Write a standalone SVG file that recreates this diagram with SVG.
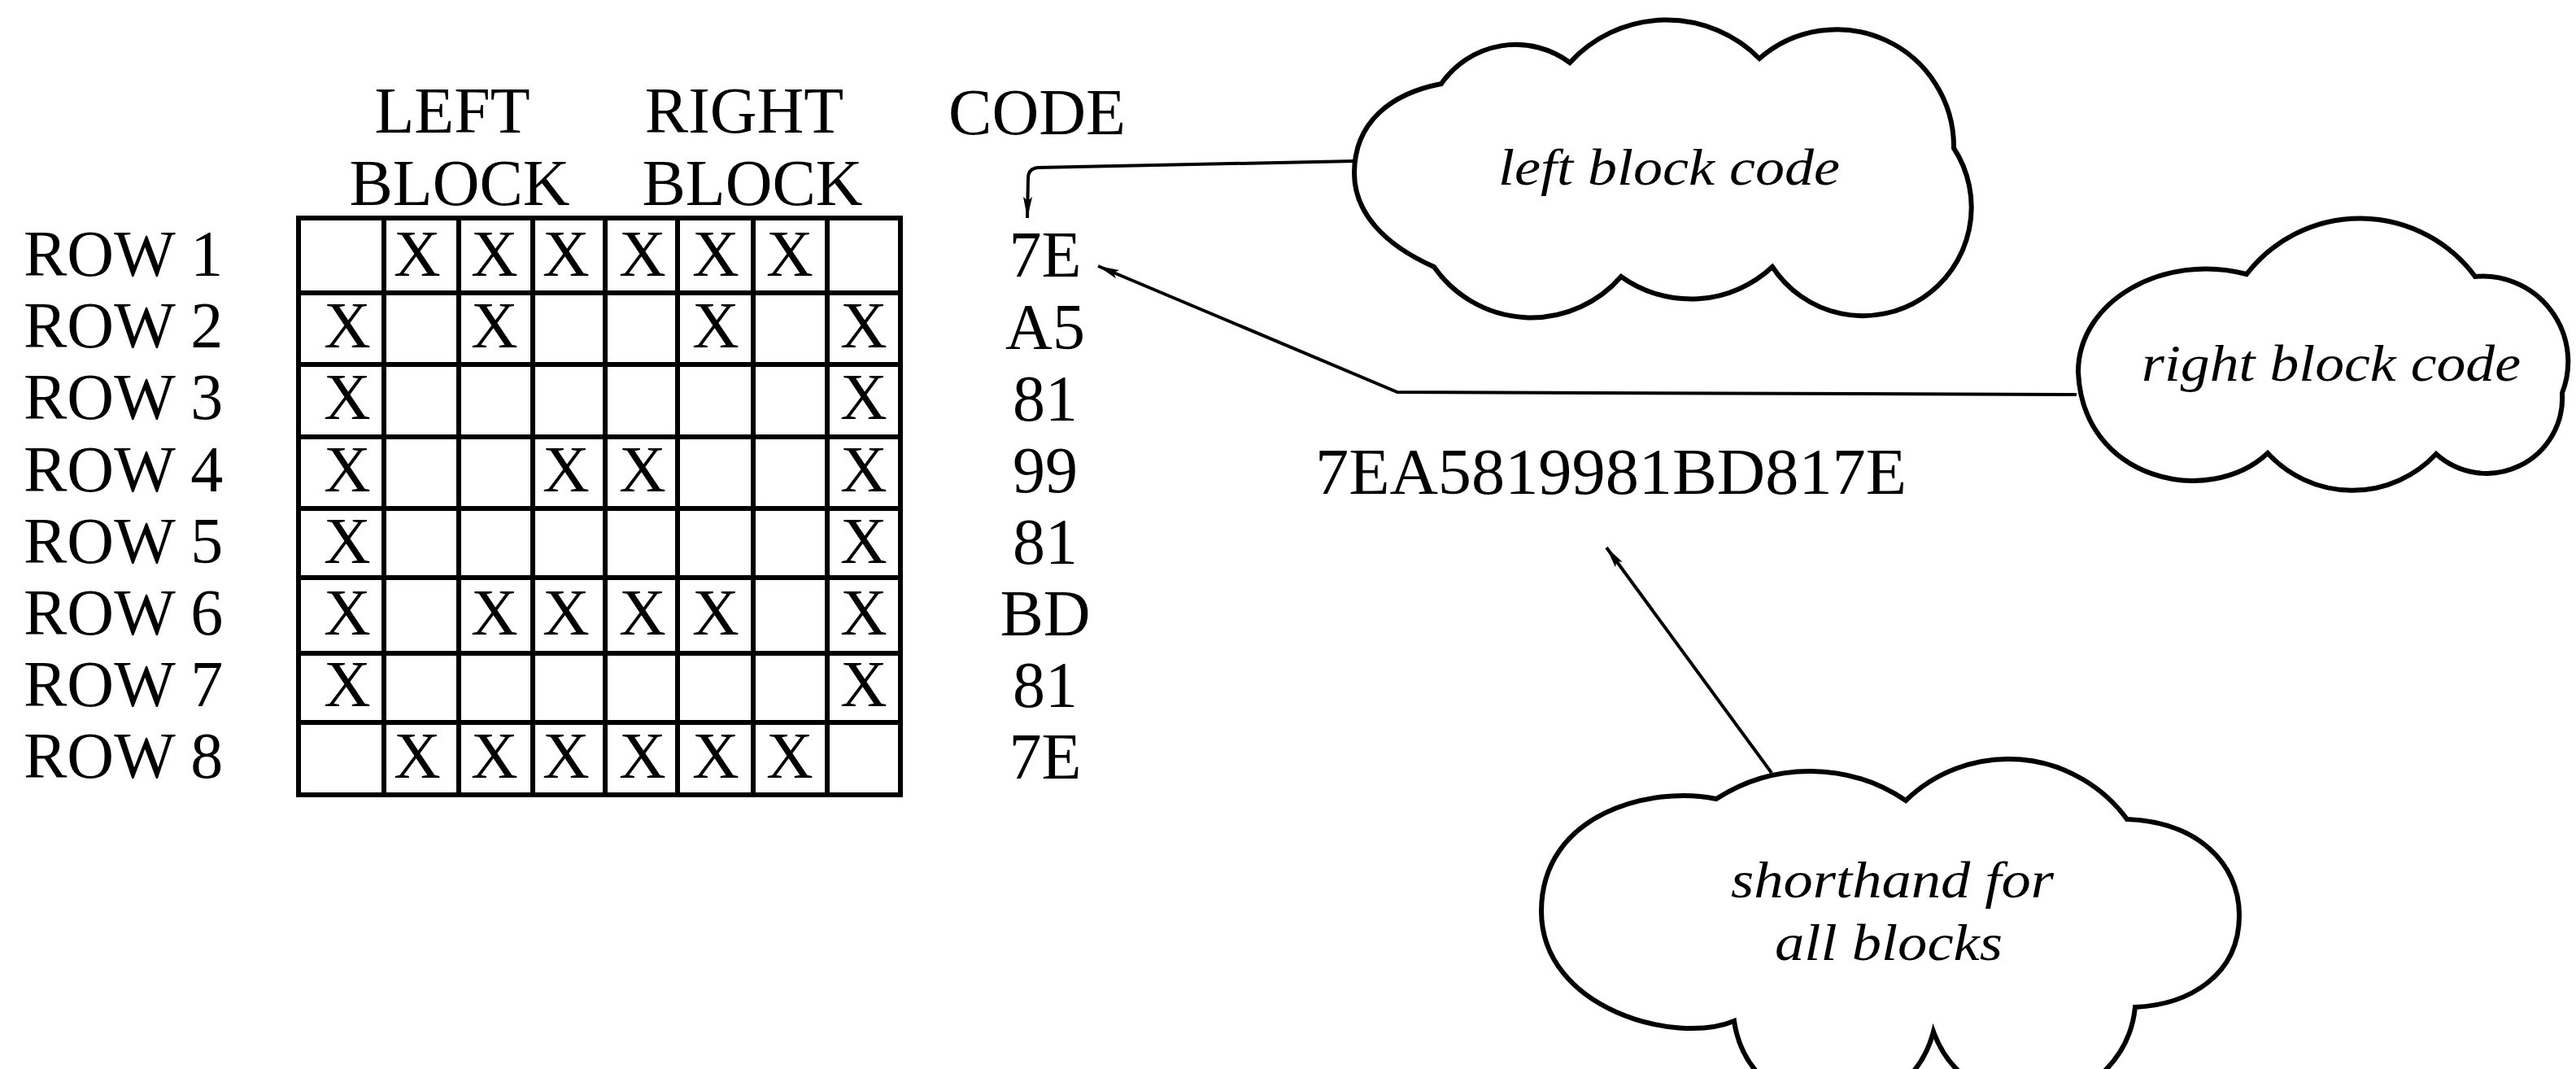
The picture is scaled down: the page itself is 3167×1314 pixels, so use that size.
<svg xmlns="http://www.w3.org/2000/svg" width="3167" height="1314" viewBox="0 0 3167 1314">
<style>
.t{font-family:"Liberation Serif","Times New Roman",serif;font-size:80px;fill:#000}
.m{text-anchor:middle}
.it{font-family:"Liberation Serif","Times New Roman",serif;font-style:italic;font-size:64px;fill:#000}
.g{stroke:#000;stroke-width:6;fill:none}
.cloud{stroke:#000;stroke-width:6;fill:#fff}
.conn{stroke:#000;stroke-width:4;fill:none;marker-end:url(#ah)}
</style>
<defs>
<marker id="ah" viewBox="0 0 26 12" refX="26" refY="6" markerWidth="26" markerHeight="12" markerUnits="userSpaceOnUse" orient="auto">
<path d="M0,0.5 L26,6 L0,11.5 L5,6 z" fill="#000"/>
</marker>
</defs>
<rect width="3167" height="1314" fill="#fff"/>

<g id="headers">
<text class="t m" x="556" y="163">LEFT</text>
<text class="t m" x="915" y="163">RIGHT</text>
<text class="t m" x="1275" y="165">CODE</text>
<text class="t m" x="565" y="252">BLOCK</text>
<text class="t m" x="925" y="252">BLOCK</text>
</g>

<g id="row-labels">
<text class="t" x="29" y="339">ROW 1</text>
<text class="t" x="29" y="427">ROW 2</text>
<text class="t" x="29" y="515">ROW 3</text>
<text class="t" x="29" y="604">ROW 4</text>
<text class="t" x="29" y="692">ROW 5</text>
<text class="t" x="29" y="780">ROW 6</text>
<text class="t" x="29" y="868">ROW 7</text>
<text class="t" x="29" y="956">ROW 8</text>
</g>

<g id="grid">
<rect class="g" x="367" y="268" width="740" height="709"/>
<path class="g" d="M472,268V977M564,268V977M655,268V977M744,268V977M833,268V977M926,268V977M1017,268V977"/>
<path class="g" d="M367,360H1107M367,448H1107M367,537H1107M367,625H1107M367,710H1107M367,803H1107M367,888H1107"/>
<g class="t m">
<text x="513" y="339">X</text><text x="608" y="339">X</text><text x="696" y="339">X</text><text x="790" y="339">X</text><text x="880" y="339">X</text><text x="971" y="339">X</text>
<text x="427" y="427">X</text><text x="608" y="427">X</text><text x="880" y="427">X</text><text x="1062" y="427">X</text>
<text x="427" y="515">X</text><text x="1062" y="515">X</text>
<text x="427" y="604">X</text><text x="696" y="604">X</text><text x="790" y="604">X</text><text x="1062" y="604">X</text>
<text x="427" y="692">X</text><text x="1062" y="692">X</text>
<text x="427" y="780">X</text><text x="608" y="780">X</text><text x="696" y="780">X</text><text x="790" y="780">X</text><text x="880" y="780">X</text><text x="1062" y="780">X</text>
<text x="427" y="868">X</text><text x="1062" y="868">X</text>
<text x="513" y="956">X</text><text x="608" y="956">X</text><text x="696" y="956">X</text><text x="790" y="956">X</text><text x="880" y="956">X</text><text x="971" y="956">X</text>
</g>
</g>

<g id="codes">
<text class="t m" x="1285" y="340">7E</text>
<text class="t m" x="1285" y="429">A5</text>
<text class="t m" x="1285" y="517">81</text>
<text class="t m" x="1285" y="605">99</text>
<text class="t m" x="1285" y="693">81</text>
<text class="t m" x="1285" y="781">BD</text>
<text class="t m" x="1285" y="869">81</text>
<text class="t m" x="1285" y="957">7E</text>
</g>

<g id="shorthand-string">
<text class="t" x="1617" y="607" textLength="727" lengthAdjust="spacingAndGlyphs">7EA5819981BD817E</text>
</g>

<g id="connectors">
<path class="conn" d="M1665,198 L1276,206 Q1264,207 1264,219 L1263,268"/>
<path class="conn" d="M2553,485 L1718,482 L1350,327"/>
<path class="conn" d="M2178,950 L1975,673"/>
</g>

<g id="cloud-left">
<path class="cloud" d="M1763,328 C1700,300 1665,260 1665,213 C1665,150 1710,115 1772,103 A111,111 0 0 1 1930,77 A161,161 0 0 1 2163,72 A144,144 0 0 1 2402,182 A130,130 0 0 1 2179,328 A147,147 0 0 1 1993,340 A146,146 0 0 1 1763,328 Z"/>
<text class="it" x="1842" y="227" textLength="420" lengthAdjust="spacingAndGlyphs">left block code</text>
</g>

<g id="cloud-right">
<path class="cloud" d="M2788,557 C2715,625 2560,590 2555,457 C2555,370 2660,310 2762,337 A176,176 0 0 1 3043,340 A105,105 0 0 1 3150,483 A93,93 0 0 1 2995,558 A141,141 0 0 1 2788,557 Z"/>
<text class="it" x="2633" y="468" textLength="466" lengthAdjust="spacingAndGlyphs">right block code</text>
</g>

<g id="cloud-shorthand">
<path class="cloud" d="M2132,1255 C2060,1285 1895,1240 1895,1120 C1895,1000 2030,965 2110,982 A211,211 0 0 1 2343,984 A181,181 0 0 1 2615,1007 C2700,1010 2753,1060 2753,1125 C2753,1200 2690,1235 2625,1238 A128,128 0 0 1 2377,1268 A125,125 0 0 1 2132,1255 Z"/>
<text class="it" x="2128" y="1103" textLength="397" lengthAdjust="spacingAndGlyphs">shorthand for</text>
<text class="it" x="2182" y="1180" textLength="280" lengthAdjust="spacingAndGlyphs">all blocks</text>
</g>
</svg>
